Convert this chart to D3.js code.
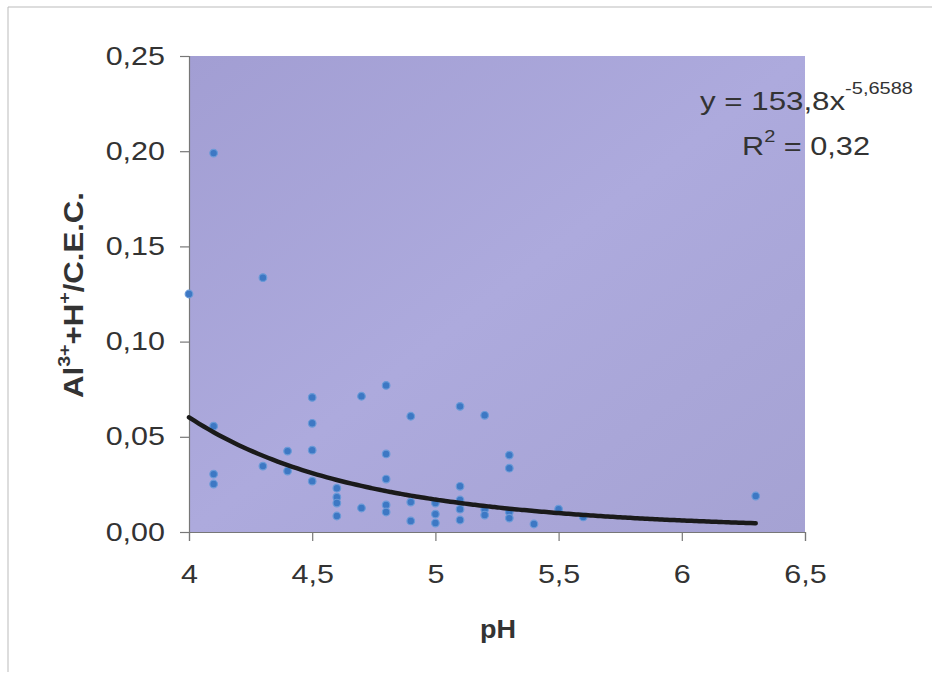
<!DOCTYPE html>
<html><head><meta charset="utf-8">
<script src="https://cdn.jsdelivr.net/npm/d3@7"></script>
<style>body{margin:0;background:#fff;} svg{display:block;} text{font-family:"Liberation Sans",Arial,sans-serif;fill:#333;}</style>
</head><body>
<svg id="c" width="950" height="681"></svg>
<script>
const phValues = [4.0,4.1,4.1,4.1,4.1,4.3,4.3,4.4,4.4,4.5,4.5,4.5,4.5,4.6,4.6,4.6,4.6,4.7,4.7,4.8,4.8,4.8,4.8,4.8,4.9,4.9,4.9,5.0,5.0,5.0,5.1,5.1,5.1,5.1,5.1,5.2,5.2,5.2,5.3,5.3,5.3,5.3,5.4,5.5,5.6,6.3];
const ratioValues = [0.125,0.199,0.0556,0.0304,0.0252,0.1336,0.0346,0.0425,0.032,0.0707,0.0571,0.043,0.0267,0.023,0.0183,0.0152,0.0084,0.0713,0.0126,0.077,0.041,0.0278,0.0142,0.0105,0.0608,0.0157,0.0058,0.0152,0.0094,0.0047,0.066,0.024,0.0168,0.012,0.0063,0.0613,0.012,0.0089,0.0404,0.0335,0.0105,0.0073,0.0042,0.012,0.0079,0.0189];
const xTicks = [4,4.5,5,5.5,6,6.5];
const yTicks = [0,0.05,0.10,0.15,0.20,0.25];
const fitA = 153.8, fitB = -5.6588;
const fitRange = [4,6.3];

const svg = d3.select("#c");
const x = d3.scaleLinear().domain([4,6.5]).range([189,805]);
const y = d3.scaleLinear().domain([0,0.25]).range([532,56]);
const fmt = d => String(d).replace(".",",");
const fmtY = d => d.toFixed(2).replace(".",",");
const STRETCH = 1.22;
function stretch(sel, target){
  sel.each(function(){
    const len = this.getComputedTextLength();
    this.setAttribute("textLength", target || len*STRETCH);
    this.setAttribute("lengthAdjust","spacingAndGlyphs");
  });
}

// outer frame
svg.append("path").attr("d","M8,672 L8,7 L932,7").attr("fill","none").attr("stroke","#bbb").attr("stroke-width",1);

// plot background
const defs = svg.append("defs");
const g = defs.append("linearGradient").attr("id","bg").attr("x1","0").attr("y1","0").attr("x2","1").attr("y2","1");
g.append("stop").attr("offset","0").attr("stop-color","#a29ed3");
g.append("stop").attr("offset","0.5").attr("stop-color","#adaadd");
g.append("stop").attr("offset","1").attr("stop-color","#a5a2d3");
svg.append("rect").attr("x",x(4)).attr("y",y(0.25)).attr("width",x(6.5)-x(4)).attr("height",y(0)-y(0.25)).attr("fill","url(#bg)");

// axes
const xa = svg.append("g").attr("transform",`translate(0,${y(0)})`)
  .call(d3.axisBottom(x).tickValues(xTicks).tickFormat(fmt).tickSize(9).tickPadding(24));
const ya = svg.append("g").attr("transform",`translate(${x(4)},0)`)
  .call(d3.axisLeft(y).tickValues(yTicks).tickFormat(fmtY).tickSize(9).tickPadding(15));
[xa,ya].forEach(a=>{
  a.selectAll("path,line").attr("stroke","#777").attr("stroke-width",1.2);
  a.selectAll("text").attr("font-size","25px").attr("fill","#333").attr("font-family","Liberation Sans, Arial, sans-serif");
});
stretch(xa.selectAll("text"));
stretch(ya.selectAll("text"));

// points
const pts = phValues.map((p,i)=>({p, v:ratioValues[i]}));
svg.append("g").selectAll("circle").data(pts).join("circle")
  .attr("cx",d=>x(d.p)).attr("cy",d=>y(d.v)).attr("r",3.8)
  .attr("fill","#3d78c4").attr("stroke","#6a9ad8").attr("stroke-width",1.2);

// fit line
const fitPts = d3.range(fitRange[0], fitRange[1]+0.001, 0.02).map(p=>[p, fitA*Math.pow(p,fitB)]);
svg.append("path").datum(fitPts)
  .attr("d", d3.line().x(d=>x(d[0])).y(d=>y(d[1])).curve(d3.curveBasis))
  .attr("fill","none").attr("stroke","#1a1a1a").attr("stroke-width",4.5).attr("stroke-linecap","round");

// equation
const eq = svg.append("text").attr("x",700).attr("y",110).attr("font-size","25px");
eq.append("tspan").text("y = 153,8x");
eq.append("tspan").attr("font-size","16px").attr("dy","-16").text("-5,6588");
stretch(eq, 213);
const r2 = svg.append("text").attr("x",742).attr("y",155).attr("font-size","26px");
r2.append("tspan").text("R");
r2.append("tspan").attr("font-size","17px").attr("dy","-13").text("2");
r2.append("tspan").attr("dy","13").text(" = 0,32");
stretch(r2, 128);

// axis titles
const ph = svg.append("text").attr("x",498).attr("y",638).attr("text-anchor","middle")
  .attr("font-size","26px").attr("font-weight","bold").text("pH");
stretch(ph, 36);
const yt = svg.append("text").attr("transform","translate(83,295) rotate(-90)").attr("text-anchor","middle")
  .attr("font-size","27px").attr("font-weight","bold");
yt.append("tspan").text("Al");
yt.append("tspan").attr("font-size","17px").attr("dy","-13").text("3+");
yt.append("tspan").attr("dy","13").text("+H");
yt.append("tspan").attr("font-size","17px").attr("dy","-13").text("+");
yt.append("tspan").attr("dy","13").text("/C.E.C.");
stretch(yt, 206);
</script>
</body></html>
